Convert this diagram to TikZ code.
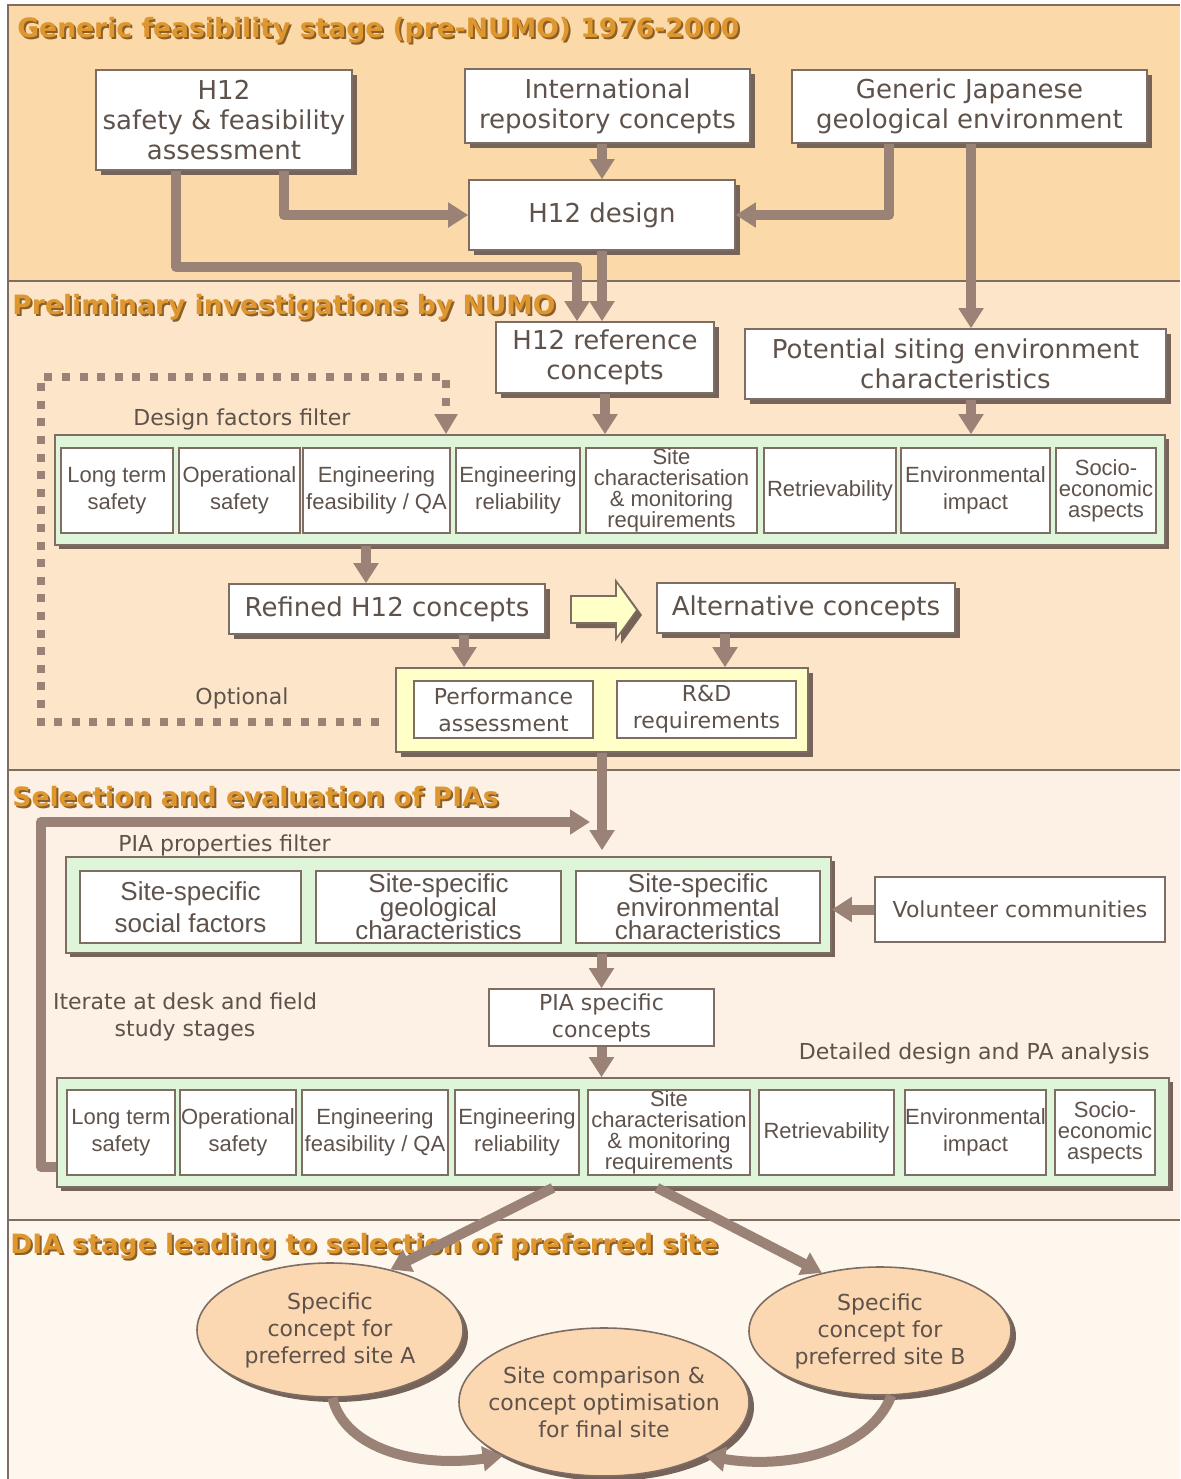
\documentclass[tikz,border=0pt]{standalone}
\usepackage{fontspec}
\setmainfont{DejaVu Sans}
\newfontfamily\arialf{Liberation Sans}
\usetikzlibrary{arrows.meta,shadows,shapes.geometric}
\definecolor{txt}{HTML}{5E524B}
\definecolor{brd}{HTML}{7D6D63}
\definecolor{shd}{HTML}{76645A}
\definecolor{arrc}{HTML}{9A8276}
\definecolor{bgA}{HTML}{FCD9A8}
\definecolor{bgB}{HTML}{FDE5C9}
\definecolor{bgC}{HTML}{FDF0E5}
\definecolor{bgD}{HTML}{FEF7EE}
\definecolor{filt}{HTML}{DFF5DA}
\definecolor{ylw}{HTML}{FFFFC8}
\definecolor{ellc}{HTML}{FCD8B2}
\definecolor{ttl}{HTML}{DE962F}
\definecolor{ttlsh}{HTML}{8C5E28}
\newcommand{\bigf}{\fontsize{13pt}{15pt}\selectfont}
\newcommand{\medf}{\fontsize{11pt}{13.5pt}\selectfont}
\newcommand{\filtf}{\arialf\fontsize{11pt}{13.5pt}\selectfont}
\newcommand{\filtt}{\arialf\fontsize{11pt}{10.5pt}\selectfont\lineskiplimit=-20pt}
\newcommand{\piaf}{\arialf\fontsize{13pt}{16pt}\selectfont}
\newcommand{\piat}{\arialf\fontsize{13pt}{11.75pt}\selectfont\lineskiplimit=-20pt}
\newcommand{\ttlf}{\fontsize{13.3pt}{15pt}\selectfont\bfseries}
\tikzset{
  R/.style n args={4}{at={({(#1+#3)/2},{(#2+#4)/2})},minimum width={(#3-#1)*0.5pt},minimum height={(#4-#2)*0.5pt}},
  myshadow/.style={drop shadow={shadow xshift=2.5pt,shadow yshift=-2.5pt,fill=shd,opacity=1}},
  box/.style={draw=brd,line width=0.8pt,fill=white,inner sep=0pt,text=txt,align=center,font=\bigf},
  shbox/.style={box,myshadow},
  fbox/.style={draw=brd,line width=0.8pt,fill=white,inner sep=0pt,text=txt,align=center,font=\filtf},
  band/.style={draw=brd,line width=0.8pt,fill=filt,inner sep=0pt,drop shadow={shadow xshift=2pt,shadow yshift=-2pt,fill=shd,opacity=1}},
  arr/.style={draw=arrc,line width=5pt,line join=round,-{Triangle[width=12pt,length=10pt]}},
  dots/.style={draw=arrc,line width=4pt,dash pattern=on 4pt off 4.8pt,-{Triangle[width=11pt,length=10pt]}},
  lbl/.style={inner sep=0pt,text=txt,font=\medf,align=center},
  ttlsty/.style={inner sep=0pt,anchor=west,font=\ttlf,text=ttl},
  ttlshsty/.style={inner sep=0pt,anchor=west,font=\ttlf,text=ttlsh},
  ell/.style={ellipse,draw=brd,line width=0.8pt,fill=ellc,inner sep=0pt,myshadow}
}
\begin{document}
\begin{tikzpicture}[x=0.5pt,y=-0.5pt]
\useasboundingbox (0,0) rectangle (1180,1479);
% section backgrounds
\fill[bgA] (8,5) rectangle (1180,281);
\fill[bgB] (8,281) rectangle (1180,770);
\fill[bgC] (8,770) rectangle (1180,1220);
\fill[bgD] (8,1220) rectangle (1180,1479);
\draw[brd,line width=0.8pt] (1180,5) -- (8,5) -- (8,1479);
\draw[brd,line width=0.8pt] (8,281) -- (1180,281);
\draw[brd,line width=0.8pt] (8,770) -- (1180,770);
\draw[brd,line width=0.8pt] (8,1220) -- (1180,1220);
% titles
\node[ttlshsty] (t1s) at (19,32) {Generic feasibility stage (pre-NUMO) 1976-2000};
\node[ttlsty] (t1) at (17,30) {Generic feasibility stage (pre-NUMO) 1976-2000};
\node[ttlshsty] (t2s) at (14,309) {Preliminary investigations by NUMO};
\node[ttlsty] (t2) at (12,307) {Preliminary investigations by NUMO};
\node[ttlshsty] (t3s) at (14,799) {Selection and evaluation of PIAs};
\node[ttlsty] (t3) at (12,797) {Selection and evaluation of PIAs};
\node[ttlshsty] (t4s) at (12,1248) {DIA stage leading to selection of preferred site};
\node[ttlsty] (t4) at (10,1246) {DIA stage leading to selection of preferred site};
% generic stage boxes
\node[shbox,R={96}{70}{352}{170}] (h12sf) {H12\\safety \& feasibility\\assessment};
\node[shbox,R={465}{69}{750}{143}] (intl) {International\\repository concepts};
\node[shbox,R={792}{70}{1147}{143}] (geo) {Generic Japanese\\geological environment};
\node[shbox,R={469}{180}{735}{250}] (design) {H12 design};
% preliminary
\node[shbox,R={496}{322}{714}{393}] (h12ref) {H12 reference\\concepts};
\node[shbox,R={745}{329}{1166}{399}] (pot) {Potential siting environment\\characteristics};
\node[lbl,anchor=west] (dflab) at (133,419) {Design factors filter};
\node[band,R={55}{435}{1165}{545}] (band1) {};
\node[fbox,R={61}{448}{173}{533}] (a1) {Long term\\safety};
\node[fbox,R={179}{448}{300}{533}] (a2) {Operational\\safety};
\node[fbox,R={303}{448}{450}{533}] (a3) {Engineering\\feasibility / QA};
\node[fbox,R={456}{448}{580}{533}] (a4) {Engineering\\reliability};
\node[fbox,font=\filtt,R={586}{448}{757}{533}] (a5) {Site\\characterisation\\\& monitoring\\requirements};
\node[fbox,R={764}{448}{896}{533}] (a6) {Retrievability};
\node[fbox,R={901}{448}{1050}{533}] (a7) {Environmental\\impact};
\node[fbox,font=\filtt,R={1056}{448}{1156}{533}] (a8) {Socio-\\economic\\aspects};
\node[shbox,R={229}{584}{545}{634}] (refined) {Refined H12 concepts};
\node[shbox,R={657}{583}{955}{633}] (alt) {Alternative concepts};
\draw[draw=brd,fill=ylw,line width=0.8pt,myshadow] (571,596) -- (616,596) -- (616,581) -- (637,610) -- (616,639) -- (616,623) -- (571,623) -- cycle;
\node[box,fill=ylw,myshadow,R={396}{668}{808}{752}] (pag) {};
\node[box,font=\medf,R={414}{681}{593}{738}] (pa) {Performance\\assessment};
\node[box,font=\medf,R={617}{681}{796}{738}] (rd) {R\&D\\requirements};
\node[lbl] (opt) at (242,698) {Optional};
\coordinate (dotstart) at (379,722);
% selection
\node[lbl,anchor=west] (pialab) at (118,845) {PIA properties filter};
\node[band,R={66}{857}{831}{953}] (pia) {};
\node[fbox,font=\piaf,R={80}{871}{301}{943}] (p1) {Site-specific\\social factors};
\node[fbox,font=\piat,R={316}{871}{561}{943}] (p2) {Site-specific\\geological\\characteristics};
\node[fbox,font=\piat,R={576}{871}{820}{943}] (p3) {Site-specific\\environmental\\characteristics};
\node[box,font=\medf,R={875}{877}{1165}{942}] (vol) {Volunteer communities};
\node[box,font=\medf,R={489}{989}{714}{1046}] (piasp) {PIA specific\\concepts};
\node[lbl] (iter) at (185,1017) {Iterate at desk and field\\study stages};
\node[lbl,anchor=east] (ddlab) at (1150,1053) {Detailed design and PA analysis};
\node[band,R={57}{1078}{1169}{1187}] (band2) {};
\node[fbox,R={67}{1090}{175}{1175}] (c1) {Long term\\safety};
\node[fbox,R={180}{1090}{296}{1175}] (c2) {Operational\\safety};
\node[fbox,R={302}{1090}{448}{1175}] (c3) {Engineering\\feasibility / QA};
\node[fbox,R={455}{1090}{579}{1175}] (c4) {Engineering\\reliability};
\node[fbox,font=\filtt,R={588}{1090}{750}{1175}] (c5) {Site\\characterisation\\\& monitoring\\requirements};
\node[fbox,R={759}{1090}{894}{1175}] (c6) {Retrievability};
\node[fbox,R={905}{1090}{1046}{1175}] (c7) {Environmental\\impact};
\node[fbox,font=\filtt,R={1055}{1090}{1155}{1175}] (c8) {Socio-\\economic\\aspects};
\coordinate (loopend) at (590,822);
% DIA
\node[ell,minimum width=133pt,minimum height=67pt] (ellA) at (330,1330) {};
\node[lbl] (ellAt) at (ellA) {Specific\\concept for\\preferred site A};
\node[ell,minimum width=131pt,minimum height=64pt] (ellB) at (880,1331) {};
\node[lbl] (ellBt) at (ellB) {Specific\\concept for\\preferred site B};
\node[ell,minimum width=145pt,minimum height=74pt] (ellC) at (604,1402) {};
\node[lbl] (ellCt) at (ellC) {Site comparison \&\\concept optimisation\\for final site};
% connectors
\draw[arr] (design.north |- intl.south) -- (design.north);
\draw[arr] (284,0 |- h12sf.south) |- (design.west);
\draw[arr] (889,0 |- geo.south) |- (design.east);
\draw[arr] (176,0 |- h12sf.south) -- (176,267) -- (577,267) -- (577,0 |- h12ref.north);
\draw[arr] (design.south) -- (design.south |- h12ref.north);
\draw[arr] (971,0 |- geo.south) -- (971,0 |- pot.north);
\draw[arr] (h12ref.south) -- (h12ref.south |- band1.north);
\draw[arr] (971,0 |- pot.south) -- (971,0 |- band1.north);
\draw[dots] (dotstart) -- (41,722) -- (41,377) -- (446,377) -- (446,0 |- band1.north);
\draw[arr] (366,0 |- band1.south) -- (366,0 |- refined.north);
\draw[arr] (464,0 |- refined.south) -- (464,0 |- pag.north);
\draw[arr] (725,0 |- alt.south) -- (725,0 |- pag.north);
\draw[arr,shorten >=3pt] (pag.south) -- (pag.south |- pia.north);
\draw[arr] (vol.west) -- (vol.west -| pia.east);
\draw[arr] (piasp.north |- pia.south) -- (piasp.north);
\draw[arr] (piasp.south) -- (piasp.south |- band2.north);
\draw[arr] (band2.west |- 0,1167) -- (41,1167) -- (41,822) -- (loopend);
\draw[arr] (553,0 |- band2.south) -- (ellA.45);
\draw[arr] (657,0 |- band2.south) -- (ellB.135);
\draw[arr] (ellA.-88) .. controls (345,1450) and (420,1468) .. (ellC.208);
\draw[arr] (ellB.-80) .. controls (870,1450) and (790,1470) .. (ellC.-28);
\end{tikzpicture}
\end{document}
